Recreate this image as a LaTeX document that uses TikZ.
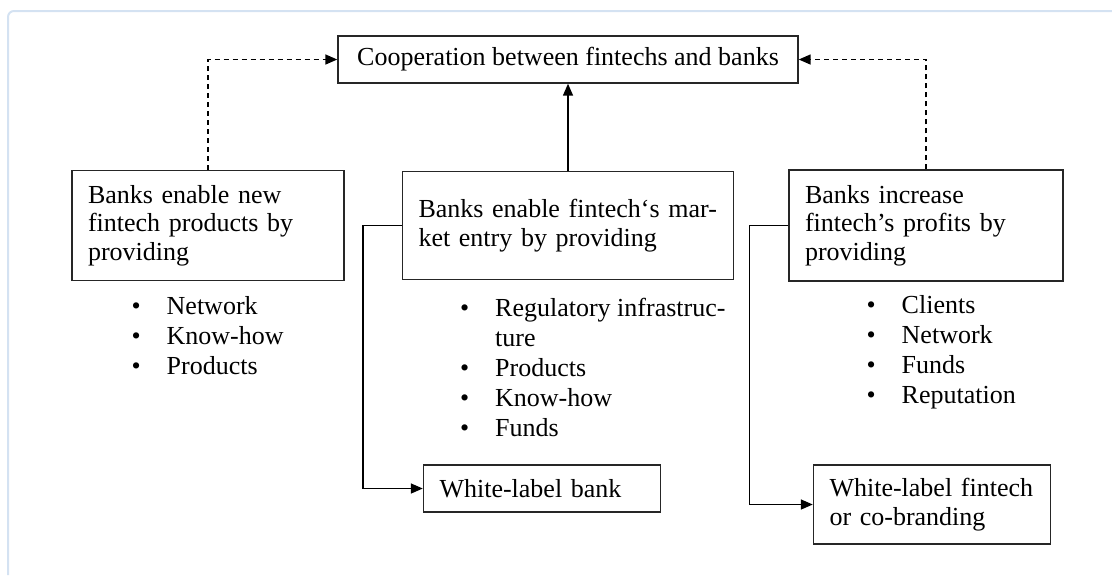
\documentclass[tikz,border=0pt]{standalone}
\usepackage{fontspec}
\setmainfont{Liberation Serif}
\usetikzlibrary{arrows.meta, positioning}
\definecolor{frameblue}{RGB}{212,226,242}
\tikzstyle{block} = [rectangle, draw=black!85, line width=0.7pt, inner xsep=8pt, inner ysep=0pt, align=left, font=\fontsize{13}{14.3}\selectfont]
\tikzstyle{bullets} = [anchor=base west, inner sep=0pt, font=\fontsize{13}{15}\selectfont]
\tikzstyle{arrow} = [line width=0.75pt, -{Triangle[length=6pt,width=5pt]}]
\tikzstyle{dasharrow} = [arrow, dash pattern=on 2.6pt off 1.9pt]
\newcommand{\itm}{\makebox[17.5pt][l]{\textbullet}}

\begin{document}
\begin{tikzpicture}
[x=0.5pt, y=-0.5pt, node distance=83pt]
\useasboundingbox (0,0) rectangle (1112,575);
\draw [frameblue, line width=1pt, rounded corners=3pt] (1112,11) -- (8,11) -- (8,575);

\node (coop) [block, align=center, minimum width=230pt, minimum height=23.5pt] at (568,59.5) {Cooperation between fintechs and banks};
\node (entry) [block, below of = coop, minimum width=165.5pt, minimum height=54pt, text width=149.5pt] {Banks enable fintech‘s mar-\\ket entry by providing};
\node (newprod) [block, left of = entry, xshift=-97pt, minimum width=136pt, minimum height=55pt, text width=120pt] {Banks enable new\\fintech products by\\providing};
\node (profits) [block, right of = entry, xshift=96pt, minimum width=137pt, minimum height=55.5pt, text width=121pt] {Banks increase\\fintech’s profits by\\providing};
\node (wlbank) [block, below of = entry, xshift=-13pt, yshift=-48.5pt, minimum width=118.5pt, minimum height=23.5pt, text width=102.5pt] {White-label bank};
\node (wlfin) [block, below of = profits, xshift=3pt, yshift=-56.5pt, minimum width=118.5pt, minimum height=39.5pt, text width=102.5pt] {White-label fintech\\or co-branding};

% lists under the boxes
\node (newlist) [bullets] at ([xshift=30pt, yshift=-16.5pt]newprod.south west) {\begin{tabular}[t]{@{}l@{}}
\itm Network\\ \itm Know-how\\ \itm Products\end{tabular}};
\node (entrylist) [bullets] at ([xshift=29pt, yshift=-18pt]entry.south west) {\begin{tabular}[t]{@{}l@{}}
\itm Regulatory infrastruc-\\ \hspace{17.5pt}ture\\ \itm Products\\ \itm Know-how\\ \itm Funds\end{tabular}};
\node (proflist) [bullets] at ([xshift=39pt, yshift=-16pt]profits.south west) {\begin{tabular}[t]{@{}l@{}}
\itm Clients\\ \itm Network\\ \itm Funds\\ \itm Reputation\end{tabular}};

\draw [arrow] (entry) -- (coop);
\draw [dasharrow] (newprod.north) |- (coop.west);
\draw [dasharrow] (profits.north) |- (coop.east);
\draw [arrow] (entry.west) -- ++(-39,0) |- (wlbank.west);
\draw [arrow] (profits.west) -- ++(-39,0) |- (wlfin.west);
\end{tikzpicture}
\end{document}
